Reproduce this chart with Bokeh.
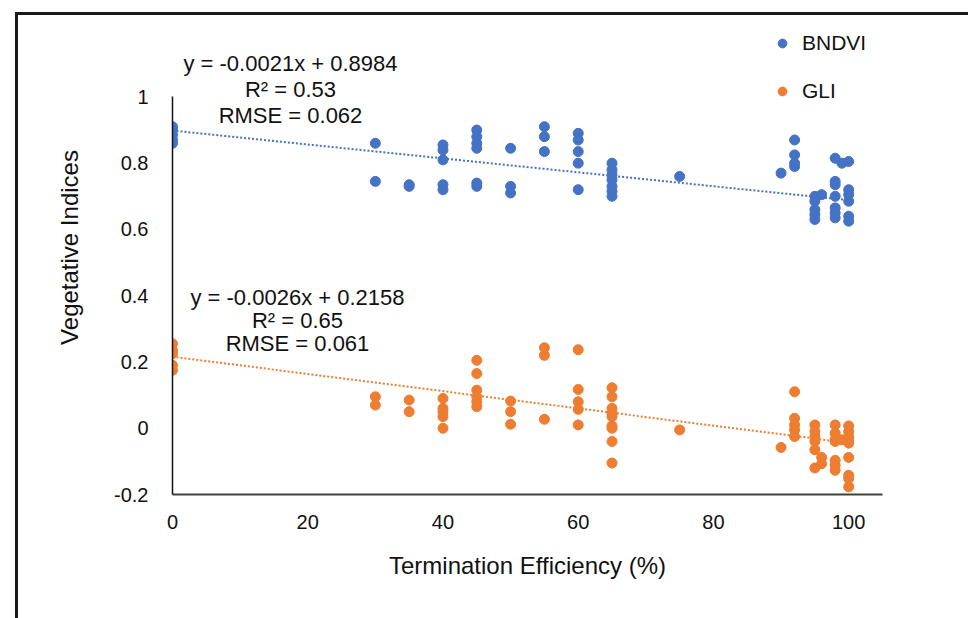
from bokeh.plotting import figure
from bokeh.models import (Range1d, Label, Legend, LegendItem,
                          FixedTicker, ColumnDataSource)
from bokeh.embed import file_html
from bokeh.resources import INLINE

# ---------------- data ----------------
bndvi_x = [0, 0, 0, 0, 0,
           30, 30,
           35, 35,
           40, 40, 40, 40, 40,
           45, 45, 45, 45, 45, 45,
           50, 50, 50,
           55, 55, 55,
           60, 60, 60, 60, 60,
           65, 65, 65, 65, 65, 65, 65,
           75,
           90,
           92, 92, 92, 92,
           95, 95, 95, 95, 95,
           96,
           98, 98, 98, 98, 98, 98, 98,
           99,
           100, 100, 100, 100, 100, 100]
bndvi_y = [0.86, 0.87, 0.885, 0.90, 0.91,
           0.86, 0.745,
           0.735, 0.73,
           0.855, 0.84, 0.81, 0.735, 0.72,
           0.90, 0.88, 0.86, 0.845, 0.74, 0.73,
           0.845, 0.73, 0.71,
           0.91, 0.88, 0.835,
           0.89, 0.87, 0.835, 0.80, 0.72,
           0.80, 0.78, 0.765, 0.75, 0.73, 0.715, 0.70,
           0.76,
           0.77,
           0.87, 0.825, 0.80, 0.79,
           0.70, 0.685, 0.66, 0.645, 0.63,
           0.705,
           0.815, 0.745, 0.735, 0.70, 0.665, 0.65, 0.635,
           0.80,
           0.805, 0.72, 0.705, 0.685, 0.64, 0.625]

gli_x = [0, 0, 0, 0, 0,
         30, 30,
         35, 35,
         40, 40, 40, 40, 40,
         45, 45, 45, 45, 45, 45,
         50, 50, 50,
         55, 55, 55,
         60, 60, 60, 60, 60,
         65, 65, 65, 65, 65, 65, 65, 65, 65,
         75,
         90,
         92, 92, 92, 92, 92,
         95, 95, 95, 95, 95, 95,
         96, 96,
         98, 98, 98, 98, 98, 98, 98,
         99,
         100, 100, 100, 100, 100, 100, 100, 100, 100]
gli_y = [0.255, 0.235, 0.225, 0.19, 0.175,
         0.095, 0.07,
         0.085, 0.05,
         0.09, 0.06, 0.05, 0.035, 0.0,
         0.205, 0.165, 0.115, 0.095, 0.08, 0.065,
         0.082, 0.05, 0.012,
         0.243, 0.22, 0.027,
         0.237, 0.117, 0.08, 0.057, 0.01,
         0.122, 0.095, 0.06, 0.045, 0.035, 0.007, 0.0, -0.04, -0.105,
         -0.005,
         -0.058,
         0.11, 0.03, 0.01, -0.005, -0.025,
         0.01, -0.01, -0.025, -0.04, -0.065, -0.12,
         -0.088, -0.107,
         0.01, -0.015, -0.035, -0.04, -0.097, -0.112, -0.127,
         -0.035,
         0.007, -0.01, -0.025, -0.035, -0.045, -0.088, -0.142, -0.152, -0.177]

bndvi_fit = (-0.0021, 0.8984)
gli_fit = (-0.0026, 0.2158)
fit_x = [0, 100]

bndvi_text = ["y = -0.0021x + 0.8984", "R\u00b2 = 0.53", "RMSE = 0.062"]
gli_text = ["y = -0.0026x + 0.2158", "R\u00b2 = 0.65", "RMSE = 0.061"]

x_ticks = [0, 20, 40, 60, 80, 100]
y_ticks = [-0.2, 0, 0.2, 0.4, 0.6, 0.8, 1]

BLUE = "#4472C4"
ORANGE = "#ED7D31"
FONT = "Liberation Sans"
TXT = "#111111"

# ---------------- figure ----------------
W, H = 968, 618
FL, FB = 172, 494          # frame left / bottom in canvas pixels
p = figure(width=W, height=H, output_backend="svg", toolbar_location=None,
           x_range=Range1d(0, 105), y_range=Range1d(-0.2, 1.291),
           min_border_left=FL, min_border_right=W - 882,
           min_border_top=0, min_border_bottom=H - FB)
p.outline_line_color = None
p.grid.grid_line_color = None
p.background_fill_color = None
p.border_fill_color = None
# outer panel border (left & top edges visible in the reference)
p.styles = {"box-shadow": "inset 15px 12px 0 0 #ffffff, inset 18px 15px 0 0 #1a1a1a",
            "background-color": "#ffffff"}

# axes
p.xaxis.ticker = FixedTicker(ticks=x_ticks)
p.yaxis.ticker = FixedTicker(ticks=y_ticks)
p.yaxis.bounds = (-0.2, 1.0)
p.yaxis.major_label_overrides = {-0.2: "-0.2", 0: "0", 0.2: "0.2", 0.4: "0.4",
                                 0.6: "0.6", 0.8: "0.8", 1: "1"}
for ax in (p.xaxis[0], p.yaxis[0]):
    ax.major_tick_line_color = None
    ax.minor_tick_line_color = None
    ax.major_label_text_font = FONT
    ax.major_label_text_font_size = "20px"
    ax.major_label_text_color = TXT
    ax.axis_label_text_font = FONT
    ax.axis_label_text_font_size = "24px"
    ax.axis_label_text_font_style = "normal"
    ax.axis_label_text_color = TXT
p.xaxis.axis_line_color = "#404040"
p.xaxis.axis_line_width = 2
p.yaxis.axis_line_color = "#111111"
p.yaxis.axis_line_width = 1.5
p.xaxis.major_label_standoff = 14
p.yaxis.major_label_standoff = 18
p.xaxis.axis_label = "Termination Efficiency (%)"
p.yaxis.axis_label = "Vegetative Indices"
p.xaxis.axis_label_standoff = 20
p.yaxis.axis_label_standoff = 28

# trend lines
src_b = ColumnDataSource(dict(x=fit_x, y=[bndvi_fit[0] * v + bndvi_fit[1] for v in fit_x]))
src_g = ColumnDataSource(dict(x=fit_x, y=[gli_fit[0] * v + gli_fit[1] for v in fit_x]))
p.line("x", "y", source=src_b, line_color=BLUE, line_width=2, line_dash="2 2")
p.line("x", "y", source=src_g, line_color=ORANGE, line_width=2, line_dash="2 2")

# points
rb = p.scatter(bndvi_x, bndvi_y, size=10, fill_color=BLUE, line_color=BLUE)
rg = p.scatter(gli_x, gli_y, size=10, fill_color=ORANGE, line_color=ORANGE)

# legend
legend = Legend(items=[LegendItem(label="BNDVI", renderers=[rb]),
                       LegendItem(label="GLI", renderers=[rg])],
                location=(771 - FL, FB - 103), orientation="vertical",
                glyph_width=22, glyph_height=22, label_height=22,
                label_standoff=9, spacing=24, padding=0, margin=0,
                label_text_font=FONT, label_text_font_size="21px",
                label_text_color=TXT,
                border_line_alpha=0, background_fill_alpha=0)
p.add_layout(legend, "center")

# regression annotations
for t, yy in zip(bndvi_text, [63, 89, 115]):
    p.add_layout(Label(x=290 - FL, y=FB - yy, x_units="screen", y_units="screen",
                       text=t, text_align="center", text_baseline="middle",
                       text_font=FONT, text_font_size="22px", text_color=TXT))
for t, yy in zip(gli_text, [297, 320, 343]):
    p.add_layout(Label(x=297 - FL, y=FB - yy, x_units="screen", y_units="screen",
                       text=t, text_align="center", text_baseline="middle",
                       text_font=FONT, text_font_size="22px", text_color=TXT))

open("out.html", "w").write(file_html(p, INLINE))
